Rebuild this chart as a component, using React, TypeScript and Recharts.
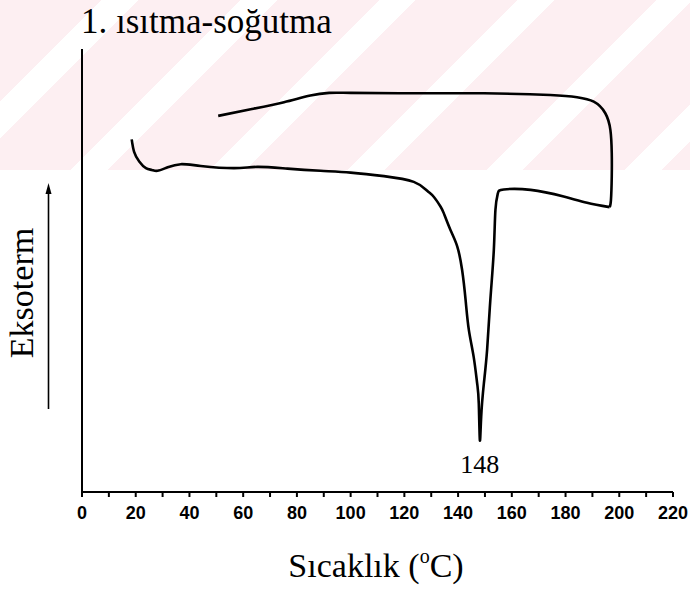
import React from 'react';
import { LineChart, Line, XAxis, YAxis, ReferenceDot } from 'recharts';

// Heating run (°C, relative heat flow, arbitrary units)
const heatTemp = [18.5, 19.4, 21.3, 23.8, 26.0, 28.1, 31.9, 36.8, 44.2, 56.6, 65.3, 76.5, 88.8, 100, 112.4, 123.5, 128.5, 131, 133.5, 134.7, 137.2, 139.7, 141.5, 142.8, 144, 145.8, 147.1, 147.7, 148.1, 148.6, 149.6, 150.8, 152, 153.3, 153.9, 154.8, 157, 167, 179.3, 188, 196.4];
const heatSignal = [79.6, 76.8, 74.6, 73.1, 72.7, 72.5, 73.3, 74.0, 73.6, 73.1, 73.4, 73.0, 72.5, 72.1, 71.3, 70.0, 68.0, 66.6, 64.4, 62.9, 59.1, 55.4, 50.1, 43.3, 36.6, 30.5, 24.5, 20.0, 11.7, 17.0, 24.5, 32.1, 43.3, 54.6, 63.7, 67.4, 68.3, 68.2, 66.7, 65.3, 64.3];

// Cooling run
const coolTemp = [196.4, 196.9, 197.2, 197.2, 196.7, 194.8, 190.5, 184.3, 174.3, 149.6, 124.8, 100, 92.0, 85.0, 75.2, 62.8, 50.7];
const coolSignal = [64.3, 65.9, 71.2, 76.5, 81.7, 85.5, 88.1, 89.1, 89.6, 90.0, 90.0, 90.1, 90.1, 89.5, 88.0, 86.4, 84.9];

// Axis ticks
const xTicks = [0, 10, 20, 30, 40, 50, 60, 70, 80, 90, 100, 110, 120, 130, 140, 150, 160, 170, 180, 190, 200, 210, 220];
const xTickLabels = [0, 20, 40, 60, 80, 100, 120, 140, 160, 180, 200, 220];

const peakTemp = 148.1;
const peakSignal = 11.7;
const peakLabel = '148';

const title = '1. ısıtma-soğutma';
const yLabel = 'Eksoterm';

const heatData = heatTemp.map((t, i) => ({ t, s: heatSignal[i] }));
const coolData = coolTemp.map((t, i) => ({ t, s: coolSignal[i] }));

const serif = '"Liberation Serif", "Times New Roman", serif';
const sans = '"Liberation Sans", Arial, sans-serif';

const XTick = (props: any) => {
  const { x, y, payload } = props;
  if (!xTickLabels.includes(payload.value)) return null;
  return (
    <text x={x} y={y} dy={20} textAnchor="middle" fontFamily={sans} fontWeight="bold" fontSize={18} fill="#000">
      {payload.value}
    </text>
  );
};

export default function App() {
  return (
    <div style={{ position: 'absolute', left: 0, top: 0, width: 690, height: 590, background: '#fff' }}>
      <div
        style={{
          position: 'absolute',
          left: 0,
          top: 0,
          width: 690,
          height: 170,
          background: 'repeating-linear-gradient(135deg, #fdeff2 0px, #fdeff2 72px, #ffffff 72px, #ffffff 98px)',
        }}
      />
      <div style={{ position: 'absolute', left: 0, top: 0 }}>
        <LineChart width={690} height={590} margin={{ top: 49, right: 17, bottom: 58, left: 81 }}>
          <XAxis
            dataKey="t"
            type="number"
            domain={[0, 220]}
            ticks={xTicks}
            interval={0}
            allowDuplicatedCategory={false}
            height={40}
            tickSize={5}
            tickMargin={2}
            tick={<XTick />}
            axisLine={{ stroke: '#000', strokeWidth: 2 }}
            tickLine={{ stroke: '#000', strokeWidth: 2 }}
          />
          <YAxis
            dataKey="s"
            type="number"
            domain={[0, 100]}
            width={1}
            tick={false}
            tickLine={false}
            axisLine={{ stroke: '#000', strokeWidth: 2 }}
          />
          <Line
            data={heatData}
            dataKey="s"
            type="natural"
            stroke="#000"
            strokeWidth={2.6}
            strokeLinejoin="round"
            dot={false}
            isAnimationActive={false}
          />
          <Line
            data={coolData}
            dataKey="s"
            type="natural"
            stroke="#000"
            strokeWidth={2.6}
            strokeLinejoin="round"
            dot={false}
            isAnimationActive={false}
          />
          <ReferenceDot
            x={peakTemp}
            y={peakSignal}
            r={0}
            fill="none"
            stroke="none"
            label={{ value: peakLabel, position: 'bottom', offset: 14, fontSize: 26, fontFamily: serif, fill: '#000' }}
          />
        </LineChart>
      </div>
      <svg width={690} height={590} style={{ position: 'absolute', left: 0, top: 0, pointerEvents: 'none' }}>
        <text x={81} y={33} fontFamily={serif} fontSize={35} fill="#000">
          {title}
        </text>
        <text
          x={33}
          y={293}
          transform="rotate(-90 33 293)"
          textAnchor="middle"
          fontFamily={serif}
          fontSize={34}
          fill="#000"
        >
          {yLabel}
        </text>
        <line x1={48.5} y1={409} x2={48.5} y2={192} stroke="#000" strokeWidth={1.6} />
        <polygon points="48.5,183 45.5,194 51.5,194" fill="#000" />
        <text x={376} y={577} textAnchor="middle" fontFamily={serif} fontSize={34} fill="#000">
          Sıcaklık (
          <tspan fontSize={20} dy={-14}>o</tspan>
          <tspan dy={14}>C)</tspan>
        </text>
      </svg>
    </div>
  );
}
